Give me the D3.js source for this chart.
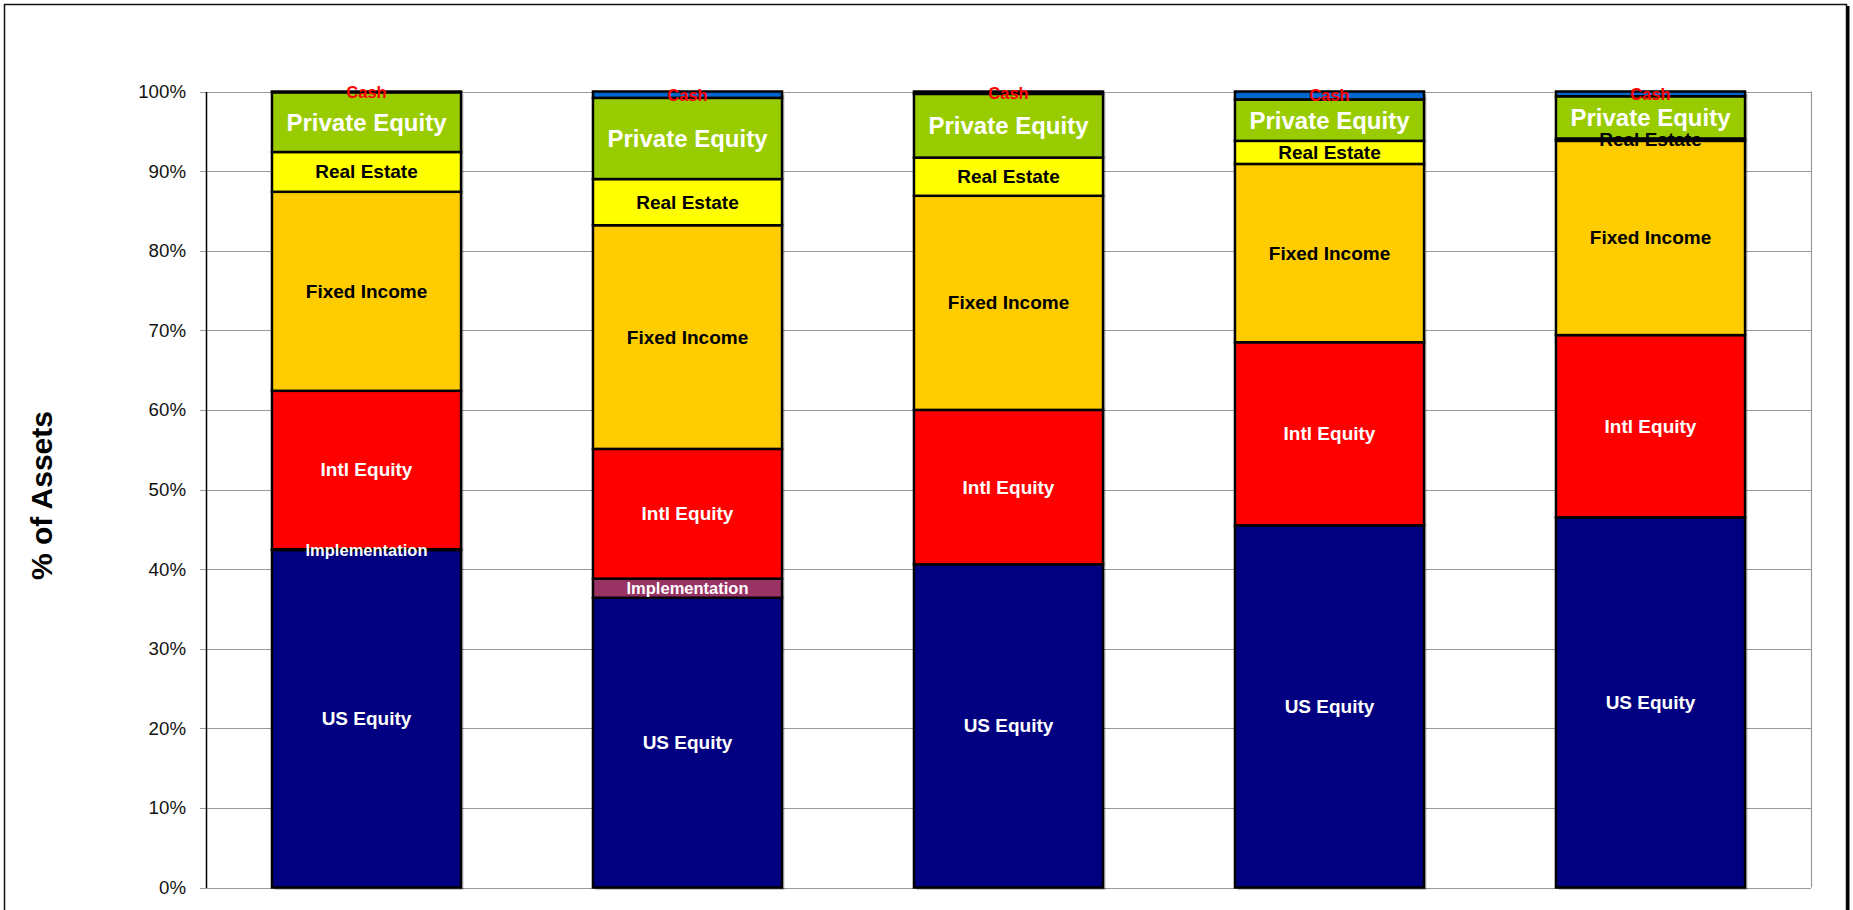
<!DOCTYPE html>
<html>
<head>
<meta charset="utf-8">
<script src="https://cdn.jsdelivr.net/npm/d3@7"></script>
<style>
  html, body { margin: 0; padding: 0; background: #fff; }
  svg { display: block; font-family: "Liberation Sans", Arial, sans-serif; }
</style>
</head>
<body>
<svg id="chart" width="1853" height="910"></svg>
<script>
// Asset allocation, % of assets, five portfolios
const categories = ["Portfolio 1", "Portfolio 2", "Portfolio 3", "Portfolio 4", "Portfolio 5"];

const seriesNames = ["US Equity", "Implementation", "Intl Equity", "Fixed Income", "Real Estate", "Private Equity", "Cash"];

const usEquity      = [42.4, 36.4, 40.6, 45.5, 46.5];
const implementation = [0.1, 2.4, 0, 0, 0];
const intlEquity    = [19.9, 16.3, 19.4, 23.0, 22.9];
const fixedIncome   = [25.0, 28.1, 26.9, 22.4, 24.4];
const realEstate    = [5.0, 5.8, 4.8, 2.9, 0.3];
const privateEquity = [7.5, 10.2, 8.0, 5.2, 5.3];
const cash          = [0.1, 0.8, 0.3, 1.0, 0.6];

const yTicks = [0, 10, 20, 30, 40, 50, 60, 70, 80, 90, 100];
const yTickLabels = ["0%", "10%", "20%", "30%", "40%", "50%", "60%", "70%", "80%", "90%", "100%"];

const seriesValues = [usEquity, implementation, intlEquity, fixedIncome, realEstate, privateEquity, cash];

// styling per series
const fillColors  = ["#000080", "#993366", "#FF0000", "#FFCC00", "#FFFF00", "#99CC00", "#0066CC"];
const labelColors = ["#FFFFFF", "#FFFFFF", "#FFFFFF", "#000000", "#000000", "#FFFFFF", "#FF0000"];
const labelSizes  = [19, 16.5, 19, 19, 19, 24, 16.5];

const rows = categories.map((c, i) => {
  const r = { category: c };
  seriesNames.forEach((s, k) => { r[s] = seriesValues[k][i]; });
  return r;
});

const stacked = d3.stack().keys(seriesNames)(rows);

const svg = d3.select("#chart");

// outer chart frame
svg.append("rect")
  .attr("x", 4.5).attr("y", 4.5)
  .attr("width", 1842).attr("height", 960)
  .attr("fill", "#fff").attr("stroke", "#111").attr("stroke-width", 1.5);
svg.append("line")
  .attr("x1", 1848).attr("x2", 1848).attr("y1", 6).attr("y2", 910)
  .attr("stroke", "#000").attr("stroke-width", 3);

const plotLeft = 206, plotRight = 1811, plotTop = 91.5, plotBottom = 887.5;

const y = d3.scaleLinear().domain([0, 100]).range([plotBottom, plotTop]);
const pad = 0.411;
const x = d3.scaleBand().domain(categories).range([plotLeft, plotRight])
  .paddingInner(pad).paddingOuter(pad / 2);

// gridlines
svg.append("g")
  .selectAll("line")
  .data(yTicks)
  .join("line")
  .attr("x1", plotLeft - 6).attr("x2", plotRight)
  .attr("y1", d => Math.round(y(d)) + 0.5).attr("y2", d => Math.round(y(d)) + 0.5)
  .attr("stroke", "#999").attr("stroke-width", 1.2);

// plot area right edge
svg.append("line")
  .attr("x1", plotRight + 0.5).attr("x2", plotRight + 0.5)
  .attr("y1", y(100)).attr("y2", y(0))
  .attr("stroke", "#999").attr("stroke-width", 1.2);

// y axis
const yAxis = d3.axisLeft(y)
  .tickValues(yTicks)
  .tickFormat((d, i) => yTickLabels[i])
  .tickSize(0)
  .tickPadding(20);

const gy = svg.append("g")
  .attr("transform", `translate(${plotLeft},0)`)
  .call(yAxis);
gy.select(".domain").attr("stroke", "#000").attr("stroke-width", 1.5);
gy.selectAll(".tick text")
  .attr("font-size", 18.7)
  .attr("font-family", "'Liberation Sans', Arial, sans-serif")
  .attr("fill", "#111");

// bar shadows
svg.append("g")
  .selectAll("rect")
  .data(categories)
  .join("rect")
  .attr("x", d => x(d) + 2.5)
  .attr("y", y(100) + 2.5)
  .attr("width", x.bandwidth())
  .attr("height", y(0) - y(100))
  .attr("fill", "rgba(0,0,0,0.22)");

// stacked segments
const layers = svg.append("g")
  .selectAll("g")
  .data(stacked)
  .join("g")
  .attr("fill", (d, i) => fillColors[i]);

layers.selectAll("rect")
  .data(d => d.map(v => Object.assign(v, { key: d.key })))
  .join("rect")
  .attr("x", d => x(d.data.category))
  .attr("y", d => y(d[1]))
  .attr("width", x.bandwidth())
  .attr("height", d => Math.max(0, y(d[0]) - y(d[1])))
  .attr("stroke", "#000")
  .attr("stroke-width", 2.5);

// segment labels
const labelG = svg.append("g");
stacked.forEach((layer, k) => {
  layer.forEach(d => {
    if (d[1] - d[0] <= 0) return;
    labelG.append("text")
      .attr("x", x(d.data.category) + x.bandwidth() / 2)
      .attr("y", y((d[0] + d[1]) / 2))
      .attr("text-anchor", "middle")
      .attr("dominant-baseline", "central")
      .attr("font-weight", "bold")
      .attr("font-size", labelSizes[k])
      .attr("fill", labelColors[k])
      .text(layer.key);
  });
});

// y axis title
svg.append("text")
  .attr("transform", `translate(52,${(plotTop + plotBottom) / 2 + 6}) rotate(-90)`)
  .attr("text-anchor", "middle")
  .attr("font-weight", "bold")
  .attr("font-size", 30)
  .attr("fill", "#000")
  .text("% of Assets");
</script>
</body>
</html>
